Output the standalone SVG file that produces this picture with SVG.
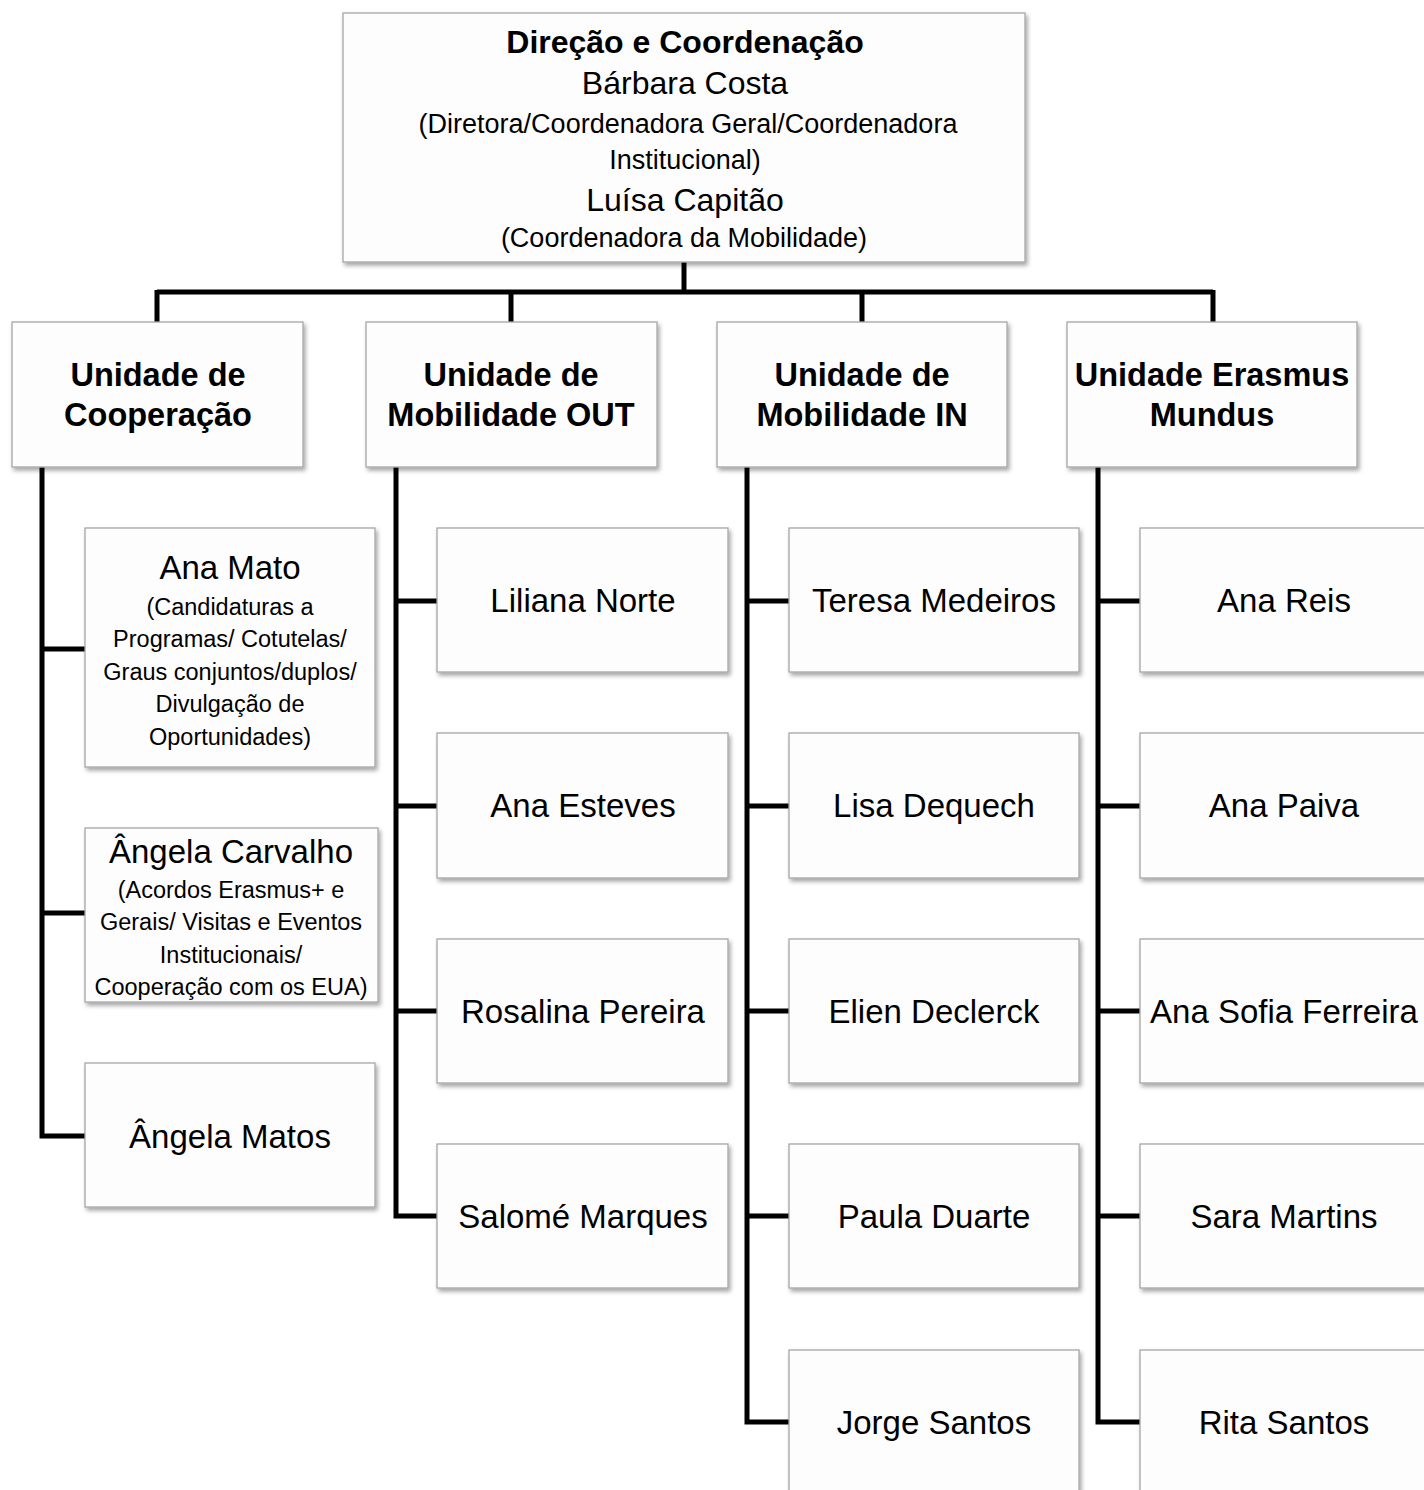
<svg xmlns="http://www.w3.org/2000/svg" width="1424" height="1490" viewBox="0 0 1424 1490">
<style>
.box{fill:#fdfdfd;stroke:#a6a6a6;stroke-width:1.3;filter:url(#sh)}
.t{font-family:"Liberation Sans",Arial,sans-serif;fill:#000;text-anchor:middle}
.b{font-weight:bold;font-size:32.5px}
.h{font-weight:bold;font-size:32px}
.n{font-size:33px}
.m{font-size:32px}
.s{font-size:27px}
.x{font-size:23.5px}
.c{fill:none;stroke:#000;stroke-width:5;stroke-linejoin:miter}
</style>
<defs>
<filter id="sh" x="-10%" y="-10%" width="130%" height="130%">
<feDropShadow dx="2" dy="3" stdDeviation="2" flood-color="#000" flood-opacity="0.35"/>
</filter>
</defs>
<rect width="1424" height="1490" fill="#fff"/>
<g id="connectors">
<path class="c" d="M684 262V292M157 292H1213M157 290V322M511 290V322M862 290V322M1213 290V322"/>
<path class="c" d="M42 467V1136H85M42 649H85M42 913H85"/>
<path class="c" d="M396 467V1216H437M396 601H437M396 806H437M396 1011H437"/>
<path class="c" d="M747 467V1422H789M747 601H789M747 806H789M747 1011H789M747 1216H789"/>
<path class="c" d="M1098 467V1422H1140M1098 601H1140M1098 806H1140M1098 1011H1140M1098 1216H1140"/>
</g>
<g id="direcao">
<rect class="box" x="343" y="13" width="682" height="249"/>
<text class="t h" x="685" y="53">Direção e Coordenação</text>
<text class="t m" x="685" y="94">Bárbara Costa</text>
<text class="t s" x="688" y="133">(Diretora/Coordenadora Geral/Coordenadora</text>
<text class="t s" x="685" y="169">Institucional)</text>
<text class="t m" x="685" y="211">Luísa Capitão</text>
<text class="t s" x="684" y="247">(Coordenadora da Mobilidade)</text>
</g>
<g id="u-cooperacao">
<rect class="box" x="12" y="322" width="291" height="145"/>
<text class="t b" x="158" y="386">Unidade de</text>
<text class="t b" x="158" y="426">Cooperação</text>
</g>
<g id="u-out">
<rect class="box" x="366" y="322" width="291" height="145"/>
<text class="t b" x="511" y="386">Unidade de</text>
<text class="t b" x="511" y="426">Mobilidade OUT</text>
</g>
<g id="u-in">
<rect class="box" x="717" y="322" width="290" height="145"/>
<text class="t b" x="862" y="386">Unidade de</text>
<text class="t b" x="862" y="426">Mobilidade IN</text>
</g>
<g id="u-em">
<rect class="box" x="1067" y="322" width="290" height="145"/>
<text class="t b" x="1212" y="386">Unidade Erasmus</text>
<text class="t b" x="1212" y="426">Mundus</text>
</g>
<g id="ana-mato">
<rect class="box" x="85" y="528" width="290" height="239"/>
<text class="t n" x="230" y="579">Ana Mato</text>
<text class="t x" x="230" y="615">(Candidaturas a</text>
<text class="t x" x="230" y="647">Programas/ Cotutelas/</text>
<text class="t x" x="230" y="680">Graus conjuntos/duplos/</text>
<text class="t x" x="230" y="712">Divulgação de</text>
<text class="t x" x="230" y="745">Oportunidades)</text>
</g>
<g id="angela-carvalho">
<rect class="box" x="85" y="828" width="293" height="174"/>
<text class="t n" x="231" y="863">Ângela Carvalho</text>
<text class="t x" x="231" y="898">(Acordos Erasmus+ e</text>
<text class="t x" x="231" y="930">Gerais/ Visitas e Eventos</text>
<text class="t x" x="231" y="963">Institucionais/</text>
<text class="t x" x="231" y="995">Cooperação com os EUA)</text>
</g>
<g id="angela-matos">
<rect class="box" x="85" y="1063" width="290" height="144"/>
<text class="t n" x="230" y="1148">Ângela Matos</text>
</g>
<g id="liliana-norte"><rect class="box" x="437" y="528" width="291" height="144"/><text class="t n" x="583" y="612">Liliana Norte</text></g>
<g id="ana-esteves"><rect class="box" x="437" y="733" width="291" height="145"/><text class="t n" x="583" y="817">Ana Esteves</text></g>
<g id="rosalina-pereira"><rect class="box" x="437" y="939" width="291" height="144"/><text class="t n" x="583" y="1023">Rosalina Pereira</text></g>
<g id="salome-marques"><rect class="box" x="437" y="1144" width="291" height="144"/><text class="t n" x="583" y="1228">Salomé Marques</text></g>
<g id="teresa-medeiros"><rect class="box" x="789" y="528" width="290" height="144"/><text class="t n" x="934" y="612">Teresa Medeiros</text></g>
<g id="lisa-dequech"><rect class="box" x="789" y="733" width="290" height="145"/><text class="t n" x="934" y="817">Lisa Dequech</text></g>
<g id="elien-declerck"><rect class="box" x="789" y="939" width="290" height="144"/><text class="t n" x="934" y="1023">Elien Declerck</text></g>
<g id="paula-duarte"><rect class="box" x="789" y="1144" width="290" height="144"/><text class="t n" x="934" y="1228">Paula Duarte</text></g>
<g id="jorge-santos"><rect class="box" x="789" y="1350" width="290" height="150"/><text class="t n" x="934" y="1434">Jorge Santos</text></g>
<g id="ana-reis"><rect class="box" x="1140" y="528" width="300" height="144"/><text class="t n" x="1284" y="612">Ana Reis</text></g>
<g id="ana-paiva"><rect class="box" x="1140" y="733" width="300" height="145"/><text class="t n" x="1284" y="817">Ana Paiva</text></g>
<g id="ana-sofia-ferreira"><rect class="box" x="1140" y="939" width="300" height="144"/><text class="t n" x="1284" y="1023">Ana Sofia Ferreira</text></g>
<g id="sara-martins"><rect class="box" x="1140" y="1144" width="300" height="144"/><text class="t n" x="1284" y="1228">Sara Martins</text></g>
<g id="rita-santos"><rect class="box" x="1140" y="1350" width="300" height="150"/><text class="t n" x="1284" y="1434">Rita Santos</text></g>
</svg>
